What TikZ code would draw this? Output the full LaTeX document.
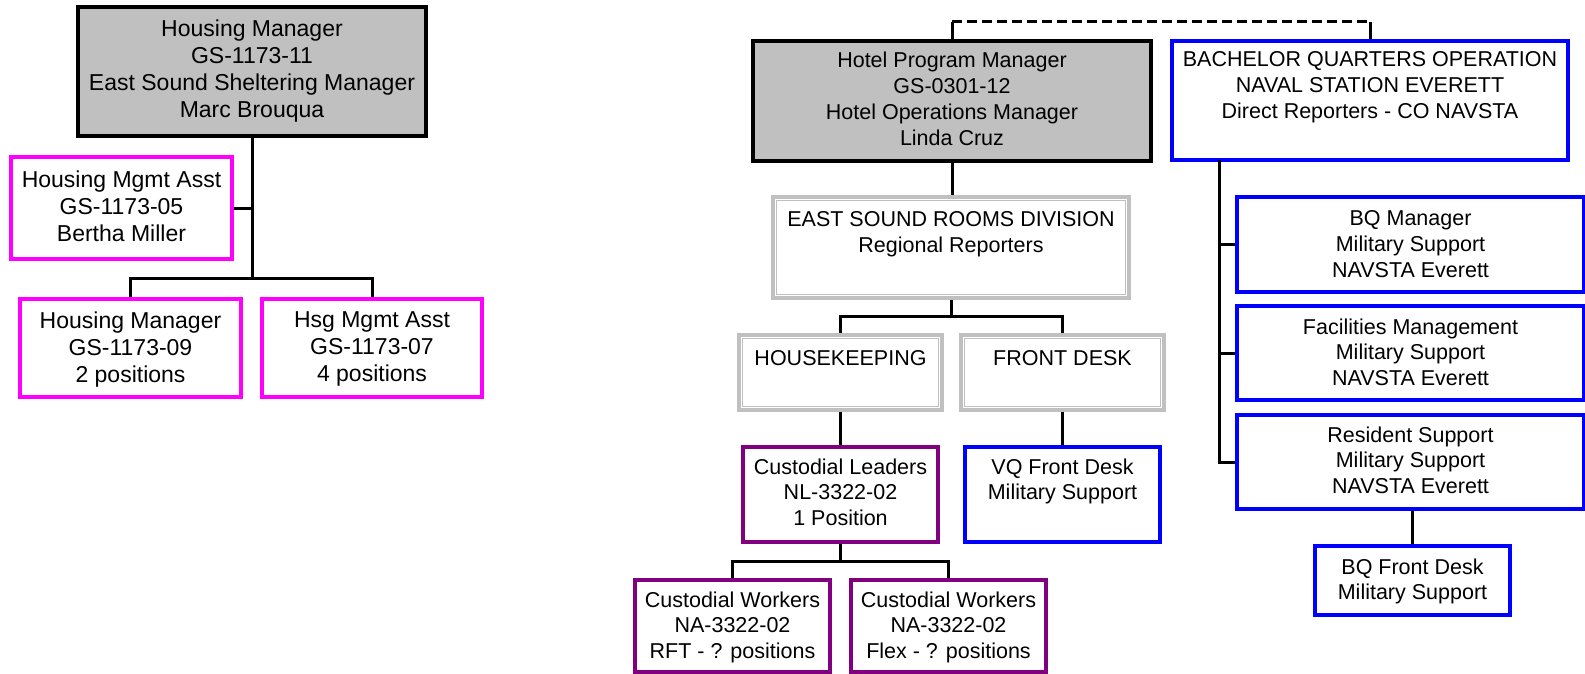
\documentclass[tikz,border=0pt]{standalone}
\usepackage{fontspec}
\setmainfont{Liberation Sans}
\definecolor{boxgray}{HTML}{C0C0C0}
\definecolor{mag}{HTML}{FF00FF}
\definecolor{purp}{HTML}{800080}
\definecolor{blu}{HTML}{0000FF}
\begin{document}
\begin{tikzpicture}[x=1pt,y=-1pt,
  base/.style={rectangle, inner sep=0pt, fill=white},
  lbl/.style={anchor=north, align=center, inner sep=0pt},
  leftfont/.style={font=\fontsize{23}{27}\selectfont},
  rightfont/.style={font=\fontsize{21.5}{25.8}\selectfont},
  headbox/.style={base, draw=black, fill=boxgray, line width=4pt},
  magbox/.style={base, draw=mag, line width=3.5pt},
  purpbox/.style={base, draw=purp, line width=3.5pt},
  bluebox/.style={base, draw=blu, line width=3.5pt},
  graybox/.style={base, draw=boxgray, line width=3.2pt},
  conn/.style={draw=black, line width=3pt},
  dashconn/.style={draw=black, line width=3pt, dash pattern=on 10pt off 5pt}
]
\useasboundingbox (0,0) rectangle (1585,674);

% ---------------- Left chart ----------------
\node[headbox, minimum width=348pt, minimum height=129pt,
  label={[lbl, leftfont, yshift=-15pt]north:{Housing Manager\\GS-1173-11\\East Sound Sheltering Manager\\Marc Brouqua}}]
  (hm) at (252,71.5) {};
\node[magbox, minimum width=221pt, minimum height=102pt,
  label={[lbl, leftfont, yshift=-15pt]north:{Housing Mgmt Asst\\GS-1173-05\\Bertha Miller}}]
  (hma) at (121.5,208) {};
\node[magbox, minimum width=221pt, minimum height=98pt,
  label={[lbl, leftfont, yshift=-14pt]north:{Housing Manager\\GS-1173-09\\2 positions}}]
  (hm9) at (130.5,348) {};
\node[magbox, minimum width=220pt, minimum height=98pt,
  label={[lbl, leftfont, yshift=-14pt]north:{Hsg Mgmt Asst\\GS-1173-07\\4 positions}}]
  (hsg) at (372,348) {};

\coordinate (busL) at (252,278);
\draw[conn] (hm.south) -- (busL);
\draw[conn] (hma.east) -- (hma.east -| hm.south);
\draw[conn] (hm9.north) |- (busL) -| (hsg.north);

% ---------------- Middle chart ----------------
\node[headbox, minimum width=398pt, minimum height=120pt,
  label={[lbl, rightfont, yshift=-13pt]north:{Hotel Program Manager\\GS-0301-12\\Hotel Operations Manager\\Linda Cruz}}]
  (hpm) at (952,101) {};
\node[graybox, minimum width=356pt, minimum height=101pt,
  label={[lbl, rightfont, yshift=-16pt]north:{EAST SOUND ROOMS DIVISION\\Regional Reporters}}]
  (esrd) at (951,247.5) {};
\node[graybox, minimum width=203pt, minimum height=75pt,
  label={[lbl, rightfont, yshift=-17pt]north:{HOUSEKEEPING}}]
  (hk) at (840.5,372.5) {};
\node[graybox, minimum width=203pt, minimum height=75pt,
  label={[lbl, rightfont, yshift=-17pt]north:{FRONT DESK}}]
  (fd) at (1062.5,372.5) {};
\foreach \n in {esrd,hk,fd}
  \draw[boxgray, line width=1.2pt] ([shift={(5pt,-5pt)}]\n.north west) rectangle ([shift={(-5pt,5pt)}]\n.south east);
\node[purpbox, minimum width=195pt, minimum height=95pt,
  label={[lbl, rightfont, yshift=-13pt]north:{Custodial Leaders\\NL-3322-02\\1 Position}}]
  (cl) at (840.5,494.5) {};
\node[bluebox, minimum width=195pt, minimum height=95pt,
  label={[lbl, rightfont, yshift=-13pt]north:{VQ Front Desk\\Military Support}}]
  (vq) at (1062.5,494.5) {};
\node[purpbox, minimum width=195pt, minimum height=92pt,
  label={[lbl, rightfont, yshift=-13pt]north:{Custodial Workers\\NA-3322-02\\RFT - ? positions}}]
  (rft) at (732.5,626) {};
\node[purpbox, minimum width=195pt, minimum height=92pt,
  label={[lbl, rightfont, yshift=-13pt]north:{Custodial Workers\\NA-3322-02\\Flex - ? positions}}]
  (flex) at (948.5,626) {};

\draw[conn] (hpm.south) -- (esrd.north -| hpm.south);
\coordinate (busM) at (951,316);
\draw[conn] (esrd.south) -- (busM);
\draw[conn] (hk.north) |- (busM) -| (fd.north);
\draw[conn] (hk.south) -- (cl.north);
\draw[conn] (fd.south) -- (vq.north);
\coordinate (busC) at (840.5,561);
\draw[conn] (cl.south) -- (busC);
\draw[conn] (rft.north) |- (busC) -| (flex.north);

% ---------------- Right chart ----------------
\node[bluebox, minimum width=396pt, minimum height=119pt,
  label={[lbl, rightfont, yshift=-12pt]north:{BACHELOR QUARTERS OPERATION\\NAVAL STATION EVERETT\\Direct Reporters - CO NAVSTA}}]
  (bq) at (1370,100.5) {};
\node[bluebox, minimum width=347pt, minimum height=95pt,
  label={[lbl, rightfont, yshift=-15pt]north:{BQ Manager\\Military Support\\NAVSTA Everett}}]
  (bqm) at (1410.5,244.5) {};
\node[bluebox, minimum width=347pt, minimum height=94pt,
  label={[lbl, rightfont, yshift=-14pt]north:{Facilities Management\\Military Support\\NAVSTA Everett}}]
  (fac) at (1410.5,353) {};
\node[bluebox, minimum width=347pt, minimum height=94pt,
  label={[lbl, rightfont, yshift=-13pt]north:{Resident Support\\Military Support\\NAVSTA Everett}}]
  (res) at (1410.5,462) {};
\node[bluebox, minimum width=195pt, minimum height=69pt,
  label={[lbl, rightfont, yshift=-14pt]north:{BQ Front Desk\\Military Support}}]
  (bqfd) at (1412.5,580.5) {};

\coordinate (bqv) at (1219,160);
\draw[conn] (bqv) |- (res.west);
\draw[conn] (bqm.west) -- (bqm.west -| bqv);
\draw[conn] (fac.west) -- (fac.west -| bqv);
\draw[conn] (res.south -| bqfd.north) -- (bqfd.north);

% dashed link between the two heads
\coordinate (dl) at (952,22);
\coordinate (dr) at (1370,22);
\draw[conn] (hpm.north) -- (dl);
\draw[dashconn] (dl) -- (dr);
\draw[conn] (dr) -- (bq.north);
\end{tikzpicture}
\end{document}
